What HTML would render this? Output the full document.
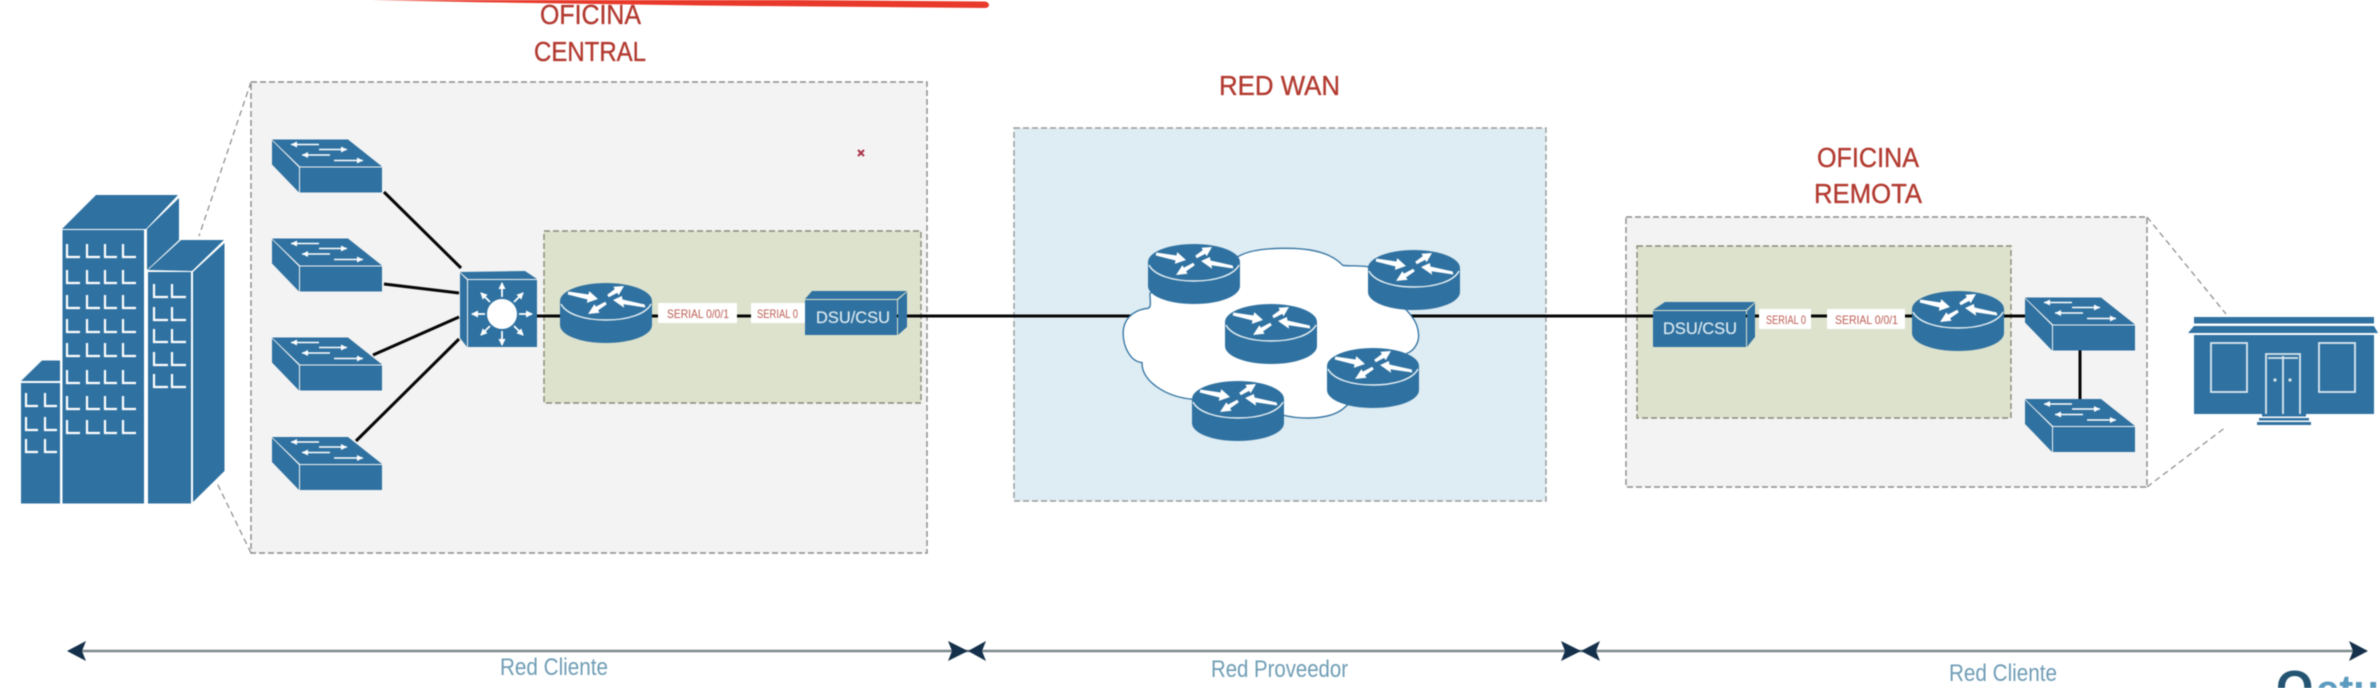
<!DOCTYPE html>
<html>
<head>
<meta charset="utf-8">
<style>
html,body{margin:0;padding:0;background:#fff;width:2380px;height:688px;overflow:hidden}
svg{display:block;filter:blur(.6px)}
text{font-family:"Liberation Sans",sans-serif}
.t{fill:#b23a30;font-size:28px;stroke:#b23a30;stroke-width:.35}
.s{fill:#bb5a50;font-size:12px}
.b{fill:#6f9db5;font-size:24px}
.d{fill:#dce9f0;font-size:17px;stroke:#dce9f0;stroke-width:.2}
</style>
</head>
<body>
<svg width="2380" height="688" viewBox="0 0 2380 688" xmlns="http://www.w3.org/2000/svg">
<defs>
<marker id="h" markerUnits="userSpaceOnUse" markerWidth="8" markerHeight="8" refX="6" refY="3.5" orient="auto"><path d="M0,0L7,3.5L0,7Z" fill="#fff"/></marker>
<marker id="h2" markerUnits="userSpaceOnUse" markerWidth="8" markerHeight="8" refX="6" refY="3" orient="auto"><path d="M0,0L6,3L0,6Z" fill="#fff"/></marker>
<g id="router">
<path d="M0,18V42C0,52 20,60 46,60C72,60 92,52 92,42V18Z" fill="#2f71a0"/>
<ellipse cx="46" cy="18" rx="46" ry="18" fill="#2f71a0"/>
<path d="M1,21C6,31 24,37 46,37C68,37 86,31 91,21" fill="none" stroke="#e8f1f5" stroke-width="1.4"/>
<g fill="#fff">
<polygon points="8.3,8.5 28.5,11.5 29.2,8.1 38,16 26.8,19.9 27.5,16.5 7.7,11.5"/>
<polygon points="84.7,21.5 62.5,16.5 61.9,13 53,17 64.1,24.8 63.5,21.3 85.3,24.5"/>
<polygon points="47.2,11.7 54.8,6.1 53.4,3.8 64,3 58.6,12.2 57.2,9.9 48.8,14.3"/>
<polygon points="45.2,18.7 35.9,23.6 34.4,21.2 28,31 39.6,29.8 38.1,27.4 46.8,21.3"/>
</g>
</g>
<g id="switch">
<polygon points="0,0 76,0 110,27 28,27" fill="#2f71a0"/>
<polygon points="28,28 110,28 110,53 28,53" fill="#2f71a0"/>
<polygon points="0,1 27,28 27,53 0,25" fill="#2f71a0"/>
<g stroke="#fff" stroke-width="1.4" fill="none">
<line x1="47" y1="5" x2="19" y2="5" marker-end="url(#h2)"/>
<line x1="47" y1="10" x2="75" y2="10" marker-end="url(#h2)"/>
<line x1="58" y1="15.5" x2="30" y2="15.5" marker-end="url(#h2)"/>
<line x1="62" y1="21" x2="91" y2="21" marker-end="url(#h2)"/>
</g>
</g>
</defs>

<rect width="2380" height="688" fill="#fff"/>

<!-- dashed zoom lines -->
<g stroke="#8a8a8a" stroke-width="1.2" stroke-dasharray="6 4" fill="none">
<line x1="251" y1="82" x2="199" y2="236"/>
<line x1="251" y1="553" x2="216" y2="481"/>
<line x1="2147" y1="217" x2="2226" y2="314"/>
<line x1="2147" y1="487" x2="2226" y2="427"/>
</g>

<!-- containers -->
<rect x="251" y="82" width="676" height="471" fill="#f3f3f3" stroke="#8a8a8a" stroke-width="1.4" stroke-dasharray="6 3"/>
<rect x="544" y="231" width="377" height="172" fill="#dde2cd" stroke="#8a8a7a" stroke-width="1.4" stroke-dasharray="6 3"/>
<rect x="1014" y="128" width="532" height="373" fill="#deecf3" stroke="#9a9a9a" stroke-width="1.4" stroke-dasharray="6 3"/>
<rect x="1626" y="217" width="521" height="270" fill="#f3f3f3" stroke="#8a8a8a" stroke-width="1.4" stroke-dasharray="6 3"/>
<rect x="1637" y="246" width="374" height="172" fill="#dde2cd" stroke="#8a8a7a" stroke-width="1.4" stroke-dasharray="6 3"/>

<!-- black connectors -->
<g stroke="#050505" stroke-width="3" fill="none">
<line x1="384" y1="192" x2="461" y2="268"/>
<line x1="384" y1="284" x2="459" y2="293"/>
<line x1="373" y1="355" x2="459" y2="317"/>
<line x1="356" y1="441" x2="459" y2="339"/>
<line x1="537" y1="316" x2="560" y2="316"/>
<line x1="652" y1="316" x2="805" y2="316"/>
<line x1="897" y1="316" x2="1140" y2="316"/>
<line x1="1400" y1="316" x2="1653" y2="316"/>
<line x1="1746" y1="316" x2="1912" y2="316"/>
<line x1="2004" y1="316" x2="2026" y2="316"/>
<line x1="2080" y1="350" x2="2080" y2="400"/>
</g>

<!-- cloud -->
<path transform="translate(1000,120) scale(.357,.3333)" d="M420 520C420 545 425 560 415 565C370 570 345 600 345 640C345 680 365 725 398 728C395 780 460 830 540 838L790 885C850 900 930 900 968 860L1140 700C1165 690 1175 660 1172 640C1170 610 1155 590 1140 572L1030 440C1000 435 980 440 960 436C920 390 850 385 800 385C750 385 700 390 670 408Z" fill="#fff" stroke="#2f71a0" stroke-width="1.3" vector-effect="non-scaling-stroke"/>

<!-- routers -->
<use href="#router" x="560" y="283"/>
<use href="#router" x="1912" y="291"/>
<use href="#router" x="1148" y="244"/>
<use href="#router" x="1368" y="250"/>
<use href="#router" x="1225" y="304"/>
<use href="#router" x="1327" y="348"/>
<use href="#router" x="1192" y="381"/>

<!-- switches -->
<use href="#switch" x="272" y="139.5"/>
<use href="#switch" x="272" y="238.5"/>
<use href="#switch" x="272" y="337.5"/>
<use href="#switch" x="272" y="437"/>
<use href="#switch" x="2025" y="297.5"/>
<use href="#switch" x="2025" y="399"/>

<!-- multilayer switch -->
<polygon points="460,272 525,271 537,279 468,279" fill="#2f71a0"/>
<polygon points="468,280 537,280 537,347 468,347" fill="#2f71a0"/>
<polygon points="460,273 467,280 467,347 460,338" fill="#2f71a0"/>
<circle cx="502" cy="314" r="15" fill="#fff"/>
<g stroke="#fff" stroke-width="1.8">
<line x1="502" y1="297" x2="502" y2="283" marker-end="url(#h)"/>
<line x1="502" y1="331" x2="502" y2="345" marker-end="url(#h)"/>
<line x1="485" y1="314" x2="472" y2="314" marker-end="url(#h)"/>
<line x1="519" y1="314" x2="532" y2="314" marker-end="url(#h)"/>
<line x1="490" y1="302" x2="481" y2="293" marker-end="url(#h)"/>
<line x1="514" y1="302" x2="523" y2="293" marker-end="url(#h)"/>
<line x1="490" y1="326" x2="481" y2="335" marker-end="url(#h)"/>
<line x1="514" y1="326" x2="523" y2="335" marker-end="url(#h)"/>
</g>

<!-- DSU/CSU -->
<polygon points="812,291 907,291 897,299 805,299" fill="#2f71a0"/>
<rect x="805" y="300" width="92" height="35" fill="#2f71a0"/>
<polygon points="898,300 907,292 907,327 898,335" fill="#2f71a0"/>
<text class="d" x="853" y="323" text-anchor="middle" textLength="74" lengthAdjust="spacingAndGlyphs">DSU/CSU</text>
<polygon points="1665,302 1755,302 1746,310 1653,310" fill="#2f71a0"/>
<rect x="1653" y="311" width="93" height="36" fill="#2f71a0"/>
<polygon points="1747,311 1755,303 1755,337 1747,347" fill="#2f71a0"/>
<text class="d" x="1700" y="334" text-anchor="middle" textLength="74" lengthAdjust="spacingAndGlyphs">DSU/CSU</text>

<!-- serial labels -->
<rect x="658" y="303" width="79" height="20" fill="#fff"/>
<rect x="751" y="303" width="54" height="20" fill="#fff"/>
<rect x="1759" y="309" width="52" height="20" fill="#fff"/>
<rect x="1827" y="309" width="78" height="20" fill="#fff"/>
<text class="s" x="667" y="318" textLength="62" lengthAdjust="spacingAndGlyphs">SERIAL 0/0/1</text>
<text class="s" x="757" y="318" textLength="41" lengthAdjust="spacingAndGlyphs">SERIAL 0</text>
<text class="s" x="1766" y="324" textLength="40" lengthAdjust="spacingAndGlyphs">SERIAL 0</text>
<text class="s" x="1835" y="324" textLength="63" lengthAdjust="spacingAndGlyphs">SERIAL 0/0/1</text>

<!-- buildings -->
<g fill="#2f71a0">
<polygon points="62,229 96,195 178,195 146,229"/>
<polygon points="147,229 179,198 179,240 147,270"/>
<rect x="62.5" y="230" width="81.5" height="273.5"/>
<polygon points="148,270 181,240 224,240 192,271"/>
<rect x="148" y="272" width="43" height="231.5"/>
<polygon points="193,272 224.5,243 224.5,471 193,502"/>
<polygon points="21,381 42,360.5 60,360.5 60,381"/>
<rect x="21" y="383" width="39" height="120.5"/>
</g>
<path fill="none" stroke="#fff" stroke-width="2.2" d="
M67 244v13h13M87 244v13h13M105 244v13h12M123 244v13h13
M67 270v13h13M87 270v13h13M105 270v13h12M123 270v13h13
M67 295v13h13M87 295v13h13M105 295v13h12M123 295v13h13
M67 319v13h13M87 319v13h13M105 319v13h12M123 319v13h13
M67 343v13h13M87 343v13h13M105 343v13h12M123 343v13h13
M67 370v13h13M87 370v13h13M105 370v13h12M123 370v13h13
M67 396v13h13M87 396v13h13M105 396v13h12M123 396v13h13
M67 420v13h13M87 420v13h13M105 420v13h12M123 420v13h13
M154 284v13h14M172 284v13h14
M154 307v13h14M172 307v13h14
M154 329v13h14M172 329v13h14
M154 352v13h14M172 352v13h14
M154 374v13h14M172 374v13h14
M26 393v13h12M45 393v13h12
M26 417v13h12M45 417v13h12
M26 439v13h12M45 439v13h12"/>

<!-- store -->
<g fill="#2f71a0">
<rect x="2194" y="317" width="180" height="6.5"/>
<polygon points="2194,326 2374,326 2378,333 2188,333"/>
<rect x="2194" y="335" width="180" height="79"/>
<rect x="2262" y="414" width="44" height="2.5"/>
<rect x="2259" y="418" width="50" height="2.5"/>
<rect x="2257" y="422" width="54" height="3"/>
</g>
<g fill="none" stroke="#dbe8ef" stroke-width="1.8">
<rect x="2211" y="343" width="36" height="49"/>
<rect x="2319" y="343" width="36" height="49"/>
<path d="M2266 414V354H2300V414M2283 356V414M2268 358H2298"/>
</g>
<circle cx="2275" cy="380" r="1.6" fill="#dbe8ef"/><circle cx="2290" cy="380" r="1.6" fill="#dbe8ef"/>

<!-- titles -->
<text class="t" x="540" y="24" textLength="101" lengthAdjust="spacingAndGlyphs">OFICINA</text>
<text class="t" x="534" y="61" textLength="112" lengthAdjust="spacingAndGlyphs">CENTRAL</text>
<text class="t" x="1219" y="95" textLength="121" lengthAdjust="spacingAndGlyphs">RED WAN</text>
<text class="t" x="1817" y="167" textLength="102" lengthAdjust="spacingAndGlyphs">OFICINA</text>
<text class="t" x="1814" y="203" textLength="108" lengthAdjust="spacingAndGlyphs">REMOTA</text>

<!-- red stroke and mark -->
<path d="M372,0L800,0L985,1.5C990,2 990.5,8 985,8L700,5.5L480,2.2L372,0Z" fill="#e8392a"/>
<path d="M858 150L864 156M864 150L858 156" stroke="#a8324a" stroke-width="2"/>

<!-- bottom arrows -->
<line x1="80" y1="651" x2="2355" y2="651" stroke="#7d8a8e" stroke-width="2.4"/>
<g fill="#14304a">
<polygon points="67,651 86,641 82,651 86,661"/>
<polygon points="968,651 948,641 952,651 948,661"/>
<polygon points="968,651 986,641 982,651 986,661"/>
<polygon points="1581,651 1561,641 1565,651 1561,661"/>
<polygon points="1581,651 1600,641 1596,651 1600,661"/>
<polygon points="2368,651 2349,641 2353,651 2349,661"/>
</g>
<text class="b" x="500" y="675" textLength="108" lengthAdjust="spacingAndGlyphs">Red Cliente</text>
<text class="b" x="1211" y="677" textLength="137" lengthAdjust="spacingAndGlyphs">Red Proveedor</text>
<text class="b" x="1949" y="681" textLength="108" lengthAdjust="spacingAndGlyphs">Red Cliente</text>

<!-- cropped logo -->
<text x="2276" y="704" font-size="48" font-weight="bold" fill="#245472">O</text>
<text x="2316" y="704" font-size="42" font-weight="bold" fill="#5a9bbf">etu</text>
</svg>
</body>
</html>
